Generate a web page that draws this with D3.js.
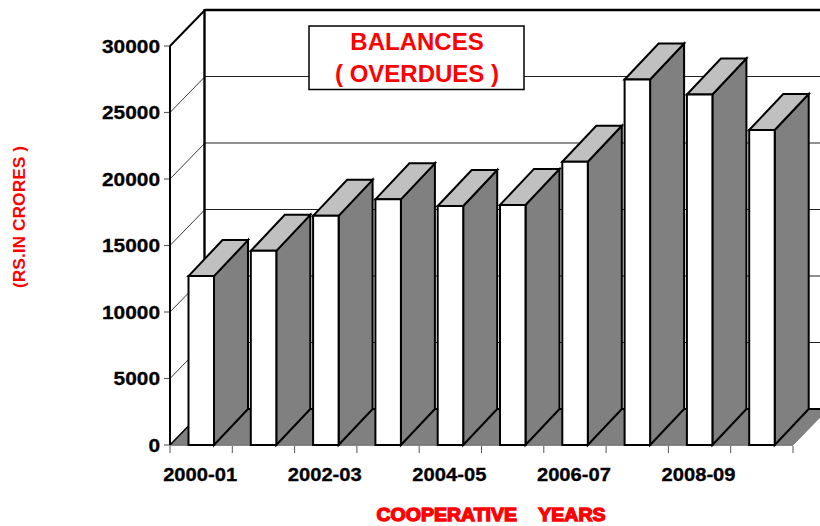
<!DOCTYPE html>
<html><head><meta charset="utf-8">
<script src="https://cdn.jsdelivr.net/npm/d3@7"></script>
<style>html,body{margin:0;padding:0;background:#fff}svg{display:block}text{font-family:"Liberation Sans",Arial,sans-serif;font-weight:bold}</style>
</head><body><svg id="c" width="820" height="526"></svg>
<script>
const years = ["2000-01","2001-02","2002-03","2003-04","2004-05","2005-06","2006-07","2007-08","2008-09","2009-10"];
const shownYears = ["2000-01","2002-03","2004-05","2006-07","2008-09"];
const balances = [12700,14600,17230,18470,17970,18050,21300,27480,26350,23680];
const yTicks = [0,5000,10000,15000,20000,25000,30000];
const dx = 35, dy = -36;

const svg = d3.select("#c");
const x = d3.scaleBand().domain(years).range([170,793]).padding(0);
const y = d3.scaleLinear().domain([0,30000]).range([445,46]);
const L = x.bandwidth();
const off = 18.5, w = 25.5;
const poly = (pts,fill,sw,stroke="#000") => svg.append("polygon").attr("points",pts.map(p=>p.join(",")).join(" ")).attr("fill",fill).attr("stroke",stroke).attr("stroke-width",sw).attr("stroke-linejoin","miter");
const line = (a,b,col,sw) => svg.append("line").attr("x1",a[0]).attr("y1",a[1]).attr("x2",b[0]).attr("y2",b[1]).attr("stroke",col).attr("stroke-width",sw);

yTicks.forEach(t=>{
  const yy = y(t);
  if(t>0 && t<30000){
    line([170,yy],[170+dx,yy+dy],"#222",0.9);
    line([170+dx,yy+dy],[860,yy+dy],"#222",1);
  }
  line([164,yy],[170,yy],"#666",1.2);
});
poly([[170,y(0)],[793,y(0)],[793+dx,y(0)+dy],[170+dx,y(0)+dy]],"#808080",1,"#777");
line([170+dx,y(0)+dy],[860,y(0)+dy],"#000",2);
line([170,46],[205,10],"#000",2);
line([205,10],[860,10],"#000",2.4);
line([204.5,9],[204.5,410],"#000",2.4);
line([170,46],[170,445],"#000",2);
line([170,445],[205,409],"#000",1.5);

const ticksX = years.map(d=>x(d)).concat([793]);
ticksX.forEach(t=>line([t,446],[t,453],"#555",1));
line([170,445.5],[793,445.5],"#888",1.2);

years.forEach((d,i)=>{
  const x0 = x(d)+off, x1 = x0+w, yt = y(balances[i]), yb = y(0);
  poly([[x1,yb],[x1+dx-1,yb+dy],[x1+dx-1,yt+dy],[x1,yt]],"#808080",2);
  poly([[x0,yt],[x0+dx-1,yt+dy],[x1+dx-1,yt+dy],[x1,yt]],"#c0c0c0",2);
  poly([[x0,yt],[x1,yt],[x1,yb],[x0,yb]],"#fff",2);
});

yTicks.forEach(t=>svg.append("text").attr("x",160).attr("y",y(t)+6.5).attr("text-anchor","end").attr("font-size",18).attr("textLength",String(t).length*11.6).attr("lengthAdjust","spacingAndGlyphs").attr("fill","#000").attr("stroke","#000").attr("stroke-width",0.3).text(t));
shownYears.forEach(s=>svg.append("text").attr("x",x(s)+L/2-1).attr("y",480.5).attr("text-anchor","middle").attr("font-size",18).attr("textLength",74).attr("lengthAdjust","spacingAndGlyphs").attr("fill","#000").attr("stroke","#000").attr("stroke-width",0.3).text(s));

svg.append("rect").attr("x",309).attr("y",26).attr("width",215).attr("height",63.5).attr("fill","#fff").attr("stroke","#000").attr("stroke-width",1.5);
svg.append("text").attr("x",417).attr("y",50).attr("text-anchor","middle").attr("font-size",24).attr("fill","#ff0000").text("BALANCES");
svg.append("text").attr("x",417).attr("y",82).attr("text-anchor","middle").attr("font-size",24).attr("fill","#ff0000").text("( OVERDUES )");

svg.append("text").attr("transform","translate(25,217) rotate(-90)").attr("text-anchor","middle").attr("font-size",17).attr("textLength",142).attr("lengthAdjust","spacingAndGlyphs").attr("fill","#ff0000").text("(RS.IN CRORES )");
svg.append("text").attr("x",491).attr("y",520.5).attr("text-anchor","middle").attr("font-size",18).style("white-space","pre").attr("textLength",229).attr("lengthAdjust","spacingAndGlyphs").attr("fill","#ff0000").attr("stroke","#ff0000").attr("stroke-width",1.3).text("COOPERATIVE    YEARS");
</script></body></html>
